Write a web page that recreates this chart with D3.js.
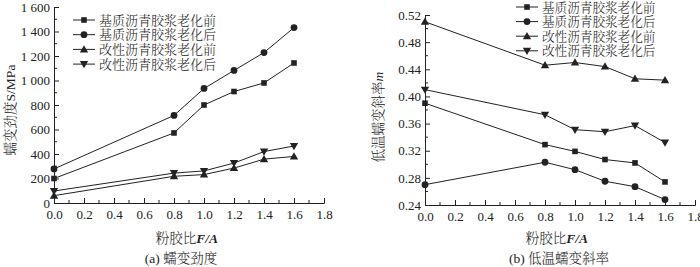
<!DOCTYPE html>
<html>
<head>
<meta charset="utf-8">
<script src="https://cdn.jsdelivr.net/npm/d3@7"></script>
<style>
  body { margin: 0; background: #fff; }
  svg text { font-family: "Liberation Serif", "Noto Serif CJK SC", "Noto Sans CJK SC", serif; fill: #222; }
  .cjk { font-family: "Noto Serif CJK SC", "Noto Sans CJK SC", sans-serif; font-weight: 300; }
</style>
</head>
<body>
<svg id="chart" width="700" height="267"></svg>
<script>
// data
let fa_ratio = [0, 0.8, 1.0, 1.2, 1.4, 1.6];
let series_names = ['基质沥青胶浆老化前', '基质沥青胶浆老化后', '改性沥青胶浆老化前', '改性沥青胶浆老化后'];
let series_symbols = ['square', 'circle', 'up', 'down'];

// (a) creep stiffness S / MPa
let stiff_base_before = [200, 572, 800, 910, 980, 1143];
let stiff_base_after = [278, 715, 935, 1082, 1228, 1432];
let stiff_mod_before = [60, 218, 232, 285, 358, 380];
let stiff_mod_after = [98, 244, 262, 326, 420, 465];

// (b) creep rate m
let m_base_before = [0.390, 0.329, 0.319, 0.307, 0.302, 0.274];
let m_base_after = [0.270, 0.303, 0.292, 0.275, 0.267, 0.248];
let m_mod_before = [0.510, 0.446, 0.450, 0.444, 0.426, 0.424];
let m_mod_after = [0.410, 0.373, 0.351, 0.348, 0.357, 0.332];

let x_ticks = [0, 0.2, 0.4, 0.6, 0.8, 1.0, 1.2, 1.4, 1.6, 1.8];
let stiff_ticks = [0, 200, 400, 600, 800, 1000, 1200, 1400, 1600];
let m_ticks = [0.24, 0.28, 0.32, 0.36, 0.40, 0.44, 0.48, 0.52];

let svg = d3.select('#chart');
let line_color = '#222';

function draw_marker(g, type, x, y){
  if(type == 'square'){
    g.append('rect').attr('x', x - 2.8).attr('y', y - 2.8).attr('width', 5.6).attr('height', 5.6).attr('fill', line_color);
  } else if(type == 'circle'){
    g.append('circle').attr('cx', x).attr('cy', y).attr('r', 3.4).attr('fill', line_color);
  } else {
    let sym = d3.symbol().type(d3.symbolTriangle).size(30);
    g.append('path').attr('d', sym)
      .attr('transform', 'translate(' + x + ',' + (type == 'up' ? y + 0.6 : y - 0.6) + ')' + (type == 'down' ? ' rotate(180)' : ''))
      .attr('fill', line_color);
  }
}

function draw_panel(cfg){
  let g = svg.append('g');
  let x = d3.scaleLinear().domain([0, 1.8]).range([cfg.left, cfg.right]);
  let y = d3.scaleLinear().domain(cfg.y_domain).range([cfg.bottom, cfg.top]);

  // axes with inward ticks
  let x_axis = g.append('g').attr('transform', 'translate(0,' + cfg.bottom + ')')
    .call(d3.axisBottom(x).tickValues(x_ticks).tickSize(-5).tickPadding(9).tickFormat(d3.format('.1f')));
  let y_axis = g.append('g').attr('transform', 'translate(' + cfg.left + ',0)')
    .call(d3.axisLeft(y).tickValues(cfg.y_ticks).tickSize(-5).tickPadding(4).tickFormat(cfg.y_format));
  [x_axis, y_axis].forEach(a => {
    a.select('.domain').attr('stroke', line_color).attr('stroke-width', 1);
    a.selectAll('.tick line').attr('stroke', line_color);
    a.selectAll('.tick text').attr('font-size', 13).attr('fill', '#222')
      .style('font-family', '"Liberation Serif", serif');
  });
  x_axis.selectAll('.tick text').attr('dy', '0.5em');

  // minor ticks
  let x_minor = d3.range(1, 18, 2).map(d => d / 10);
  g.append('g').selectAll('line').data(x_minor).enter().append('line')
    .attr('x1', d => x(d)).attr('x2', d => x(d))
    .attr('y1', cfg.bottom).attr('y2', cfg.bottom - 3)
    .attr('stroke', line_color);
  let step = cfg.y_ticks[1] - cfg.y_ticks[0];
  let y_minor = cfg.y_ticks.slice(0, -1).map(d => d + step / 2);
  g.append('g').selectAll('line').data(y_minor).enter().append('line')
    .attr('x1', cfg.left).attr('x2', cfg.left + 3)
    .attr('y1', d => y(d)).attr('y2', d => y(d))
    .attr('stroke', line_color);

  // lines and markers
  let link = d3.line().x((d, i) => x(fa_ratio[i])).y(d => y(d));
  cfg.series.forEach((vals, k) => {
    g.append('path').attr('d', link(vals)).attr('fill', 'none')
      .attr('stroke', line_color).attr('stroke-width', 1);
    vals.forEach((v, i) => draw_marker(g, series_symbols[k], x(fa_ratio[i]), y(v)));
  });

  // legend
  let lg = g.append('g');
  series_names.forEach((name, k) => {
    let ly = cfg.legend_y + k * cfg.legend_step;
    lg.append('line').attr('x1', cfg.legend_x).attr('x2', cfg.legend_x + 22)
      .attr('y1', ly).attr('y2', ly).attr('stroke', line_color);
    draw_marker(lg, series_symbols[k], cfg.legend_x + 11, ly);
    lg.append('text').attr('class', 'cjk').attr('x', cfg.legend_x + 26).attr('y', ly)
      .attr('dy', '0.36em').attr('font-size', cfg.legend_font).text(name);
  });

  // y axis title
  let yt = g.append('text').attr('class', 'cjk')
    .attr('transform', 'translate(' + cfg.y_title_x + ',' + cfg.y_title_y + ') rotate(-90)')
    .attr('text-anchor', 'middle').attr('dy', '0.35em').attr('font-size', 13.5);
  yt.append('tspan').text(cfg.y_title_cn);
  yt.append('tspan').style('font-family', '"Liberation Serif", serif').attr('font-style', cfg.y_title_italic ? 'italic' : 'normal').text(cfg.y_title_sym);

  // x axis title
  let xt = g.append('text').attr('class', 'cjk').attr('x', cfg.x_title_x).attr('y', 238)
    .attr('text-anchor', 'middle').attr('dy', '0.35em').attr('font-size', 13.5);
  xt.append('tspan').text('粉胶比');
  xt.append('tspan').style('font-family', '"Liberation Serif", serif').attr('font-style', 'italic').attr('font-weight', 'bold').text('F/A');

  // caption
  let cap = g.append('text').attr('class', 'cjk').attr('x', cfg.caption_x).attr('y', 258)
    .attr('text-anchor', 'middle').attr('dy', '0.35em').attr('font-size', 13.5);
  cap.append('tspan').style('font-family', '"Liberation Serif", serif').text(cfg.caption_tag + ' ');
  cap.append('tspan').text(cfg.caption);
}

draw_panel({
  left: 54, right: 324, top: 7, bottom: 203,
  y_domain: [0, 1600], y_ticks: stiff_ticks,
  y_format: d => d >= 1000 ? d3.format(',')(d).replace(',', ' ') : String(d),
  series: [stiff_base_before, stiff_base_after, stiff_mod_before, stiff_mod_after],
  legend_x: 73, legend_y: 20, legend_step: 14.7, legend_font: 13,
  y_title_x: 10, y_title_y: 110, y_title_cn: '蠕变劲度', y_title_sym: 'S/MPa', y_title_italic: false,
  x_title_x: 187, caption_x: 181, caption_tag: '(a)', caption: '蠕变劲度'
});

draw_panel({
  left: 425, right: 695, top: 15, bottom: 205,
  y_domain: [0.24, 0.52], y_ticks: m_ticks,
  y_format: d3.format('.2f'),
  series: [m_base_before, m_base_after, m_mod_before, m_mod_after],
  legend_x: 516, legend_y: 7, legend_step: 14.6, legend_font: 12.6,
  y_title_x: 378, y_title_y: 117, y_title_cn: '低温蠕变斜率', y_title_sym: 'm', y_title_italic: true,
  x_title_x: 557, caption_x: 559, caption_tag: '(b)', caption: '低温蠕变斜率'
});
</script>
</body>
</html>
